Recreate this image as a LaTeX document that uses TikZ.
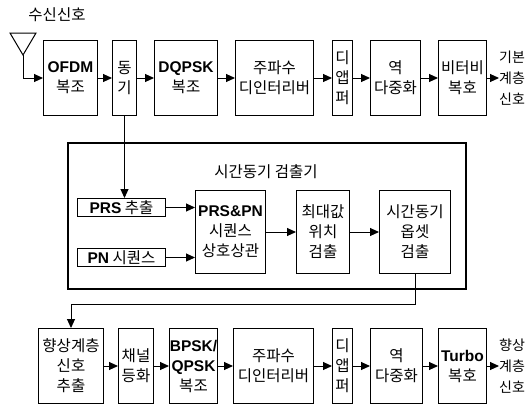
\documentclass[tikz,border=0pt]{standalone}
\usepackage{fontspec}
\setmainfont{Noto Sans CJK KR}
\newfontfamily\latfont{Liberation Sans}
\newcommand{\en}[1]{{\latfont\bfseries #1}}
\usepackage{tikz}
\usetikzlibrary{arrows.meta, positioning}

\begin{document}
\begin{tikzpicture}[x=1pt, y=-1pt, node distance=17pt,
    blok/.style={draw, line width=1pt, inner sep=0pt, minimum height=75pt, align=center, font=\fontsize{15.5pt}{20pt}\selectfont},
    kort/.style={draw, line width=1pt, inner sep=0pt, minimum width=88pt, minimum height=18pt, font=\fontsize{15.5pt}{20pt}\selectfont},
    uit/.style={inner sep=0pt, align=left, font=\fontsize{14pt}{21pt}\selectfont},
    pijl/.style={line width=1pt, -{Triangle[length=9pt, width=8pt]}}]
    \useasboundingbox (0,0) rectangle (526,407);
    \node[font=\fontsize{15.5pt}{20pt}\selectfont] (rx) at (57,15) {수신신호};
    \draw[line width=1pt] (10,33) -- (36,33) -- (23,55) -- cycle;
    \coordinate (ant) at (23,55);
    \node[blok, minimum width=54pt, anchor=north west] (ofdm) at (43,40) {\en{OFDM}\\복조};
    \node[blok, minimum width=24pt, right=14pt of ofdm] (sync) {동\\기};
    \node[blok, minimum width=63pt, right=of sync] (dqpsk) {\en{DQPSK}\\복조};
    \node[blok, minimum width=78pt, right=of dqpsk] (deint) {주파수\\디인터리버};
    \node[blok, minimum width=20pt, right=18pt of deint] (demap) {디\\앱\\퍼};
    \node[blok, minimum width=50pt, right=of demap] (demux) {역\\다중화};
    \node[blok, minimum width=48pt, right=of demux] (vit) {비터비\\복호};
    \node[uit, right=12pt of vit] (base) {기본\\계층\\신호};
    \draw[pijl] (ant) |- (ofdm);
    \draw[pijl] (ofdm) -- (sync);
    \draw[pijl] (sync) -- (dqpsk);
    \draw[pijl] (dqpsk) -- (deint);
    \draw[pijl] (deint) -- (demap);
    \draw[pijl] (demap) -- (demux);
    \draw[pijl] (demux) -- (vit);
    \draw[pijl] (vit) -- (base);

    \node[draw, line width=2.2pt, minimum width=398pt, minimum height=146pt, anchor=north west] (det) at (67,142) {};
    \node[font=\fontsize{15.5pt}{20pt}\selectfont] (dett) at (266,172) {시간동기 검출기};
    \node[kort, anchor=north west] (prs) at (77,198) {\en{PRS} 추출};
    \node[kort, anchor=north west] (pn) at (77,248) {\en{PN} 시퀀스};
    \node[blok, minimum width=70pt, minimum height=83pt, anchor=north west] (corr) at (195,190) {\en{PRS\&PN}\\시퀀스\\상호상관};
    \node[blok, minimum width=53pt, minimum height=83pt, right=30pt of corr] (peak) {최대값\\위치\\검출};
    \node[blok, minimum width=71pt, minimum height=83pt, right=29pt of peak] (offs) {시간동기\\옵셋\\검출};
    \draw[pijl] (sync) -- (sync |- prs.north);
    \draw[pijl] (prs) -- (prs -| corr.west);
    \draw[pijl] (pn) -- (pn -| corr.west);
    \draw[pijl] (corr) -- (peak);
    \draw[pijl] (peak) -- (offs);

    \node[blok, minimum width=65pt, anchor=north west] (ext) at (38,328) {향상계층\\신호\\추출};
    \node[blok, minimum width=35pt, right=14pt of ext] (eq) {채널\\등화};
    \node[blok, minimum width=48pt, right=15pt of eq] (bpsk) {\en{BPSK/}\\\en{QPSK}\\복조};
    \node[blok, minimum width=80pt, right=15pt of bpsk] (deint2) {주파수\\디인터리버};
    \node[blok, minimum width=20pt, right=18pt of deint2] (demap2) {디\\앱\\퍼};
    \node[blok, minimum width=52pt, right=of demap2] (demux2) {역\\다중화};
    \node[blok, minimum width=48pt, right=15pt of demux2] (turbo) {\en{Turbo}\\복호};
    \node[uit, right=12pt of turbo] (enh) {향상\\계층\\신호};
    \draw[pijl] (offs.south) -- ++(0,30) -| (ext);
    \draw[pijl] (ext) -- (eq);
    \draw[pijl] (eq) -- (bpsk);
    \draw[pijl] (bpsk) -- (deint2);
    \draw[pijl] (deint2) -- (demap2);
    \draw[pijl] (demap2) -- (demux2);
    \draw[pijl] (demux2) -- (turbo);
    \draw[pijl] (turbo) -- (enh);
\end{tikzpicture}
\end{document}
